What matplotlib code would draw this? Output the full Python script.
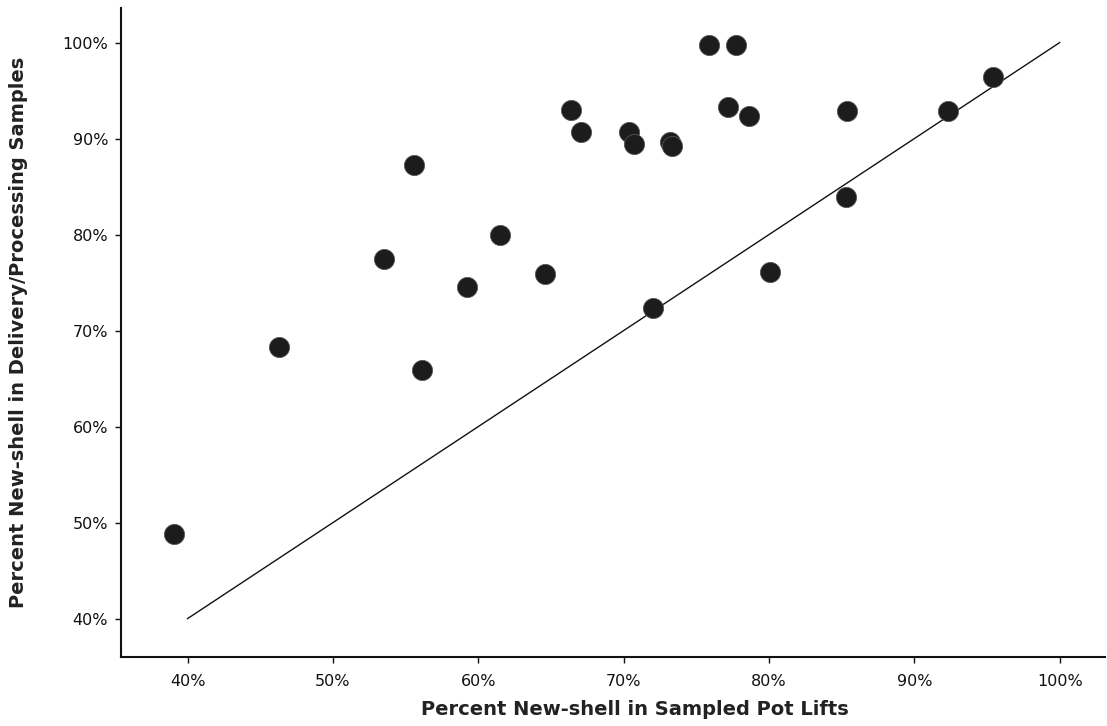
import numpy as np
import matplotlib
matplotlib.use('Agg')
import matplotlib.pyplot as plt
import matplotlib.ticker as ticker

# Percent new-shell: sampled pot lifts (x) vs delivery/processing samples (y)
pot_lifts = [39.1, 46.3, 53.5, 55.6, 56.1, 59.2, 61.5, 64.6, 66.4, 67.1,
             70.4, 70.7, 72.0, 73.2, 73.3, 75.9, 77.2, 77.7, 78.6, 80.1,
             85.3, 85.4, 92.3, 95.4]
delivery = [48.8, 68.3, 77.5, 87.2, 65.9, 74.5, 80.0, 75.9, 93.0, 90.7,
            90.7, 89.4, 72.4, 89.6, 89.2, 99.7, 93.3, 99.7, 92.4, 76.1,
            83.9, 92.9, 92.9, 96.4]

# 1:1 reference line
ref_line = [40, 100]

fig = plt.figure(figsize=(11.07, 7.26), dpi=100)
ax = fig.add_axes([0.109, 0.095, 0.889, 0.894])

ax.plot(ref_line, ref_line, color='#111111', lw=1.0, zorder=1)
ax.scatter(pot_lifts, delivery, s=210, color='#1c1c1c', edgecolors='#555555',
           linewidths=0.6, zorder=2)

ax.set_xlim(35.4, 103.1)
ax.set_ylim(36.0, 103.6)
ax.xaxis.set_major_locator(ticker.FixedLocator(range(40, 101, 10)))
ax.yaxis.set_major_locator(ticker.FixedLocator(range(40, 101, 10)))
ax.xaxis.set_major_formatter(ticker.FuncFormatter(lambda v, p: f"{v:.0f}%"))
ax.yaxis.set_major_formatter(ticker.FuncFormatter(lambda v, p: f"{v:.0f}%"))

for s in ['top', 'right']:
    ax.spines[s].set_visible(False)
for s in ['left', 'bottom']:
    ax.spines[s].set_linewidth(1.5)
    ax.spines[s].set_color('#111111')

ax.tick_params(axis='both', direction='out', length=4, width=1,
               labelsize=11.5, colors='#111111')
ax.tick_params(axis='x', pad=8)
ax.tick_params(axis='y', pad=5)

ax.set_xlabel('Percent New-shell in Sampled Pot Lifts', fontsize=14,
              fontweight='bold', color='#222222')
ax.set_ylabel('Percent New-shell in Delivery/Processing Samples', fontsize=14,
              fontweight='bold', color='#222222')
ax.xaxis.set_label_coords(0.522, -0.066)
ax.yaxis.set_label_coords(-0.094, 0.5)

fig.savefig('out.png', dpi=100)
